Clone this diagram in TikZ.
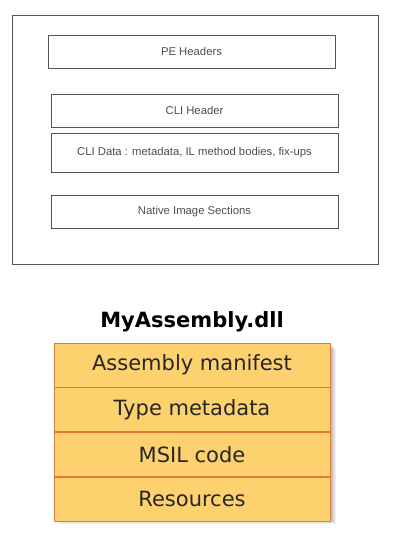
\documentclass[tikz,border=0pt]{standalone}
\usepackage{fontspec}
\setmainfont{Liberation Sans}
\newfontfamily\verdana{DejaVu Sans}
\usetikzlibrary{positioning}
\definecolor{boxline}{HTML}{555555}
\definecolor{rowfill}{HTML}{FDD26E}
\definecolor{rowline}{HTML}{E07B39}

\begin{document}
\begin{tikzpicture}[x=1pt,y=-1pt,
    section/.style={draw=boxline, thick, minimum width=287pt, minimum height=33pt, inner sep=0pt,
      font=\fontsize{11.3}{13}\selectfont, text=black!70},
    row/.style={draw=rowline, thick, fill=rowfill, minimum width=276pt, minimum height=44pt, inner sep=0pt,
      font=\verdana\fontsize{21}{24}\selectfont, text=black!85}]
  \useasboundingbox (0,0) rectangle (403,553);
  % PE file layout
  \draw[boxline, thick] (12,15) rectangle (378,264);
  \node[section] (pe) at (191.5,51.5) {PE Headers};
  \node[section] (clihdr) at (194.5,110.5) {CLI Header};
  \node[section, minimum height=39pt] (clidata) at (194.5,152.5) {CLI Data : metadata, IL method bodies, fix-ups};
  \node[section] (native) at (194.5,211.5) {Native Image Sections};
  % assembly
  \node[font=\verdana\bfseries\fontsize{21}{24}\selectfont] (title) at (192,322) {MyAssembly.dll};
  \foreach \i in {1,...,6}
    \fill[black, opacity=0.06] (54+\i,343+\i) rectangle (330+\i,518+\i);
  \node[row] (manifest) at (192,365) {Assembly manifest};
  \node[row, below=0pt of manifest] (typemeta) {Type metadata};
  \node[row, below=0pt of typemeta] (msil) {MSIL code};
  \node[row, below=0pt of msil] (res) {Resources};
\end{tikzpicture}
\end{document}
